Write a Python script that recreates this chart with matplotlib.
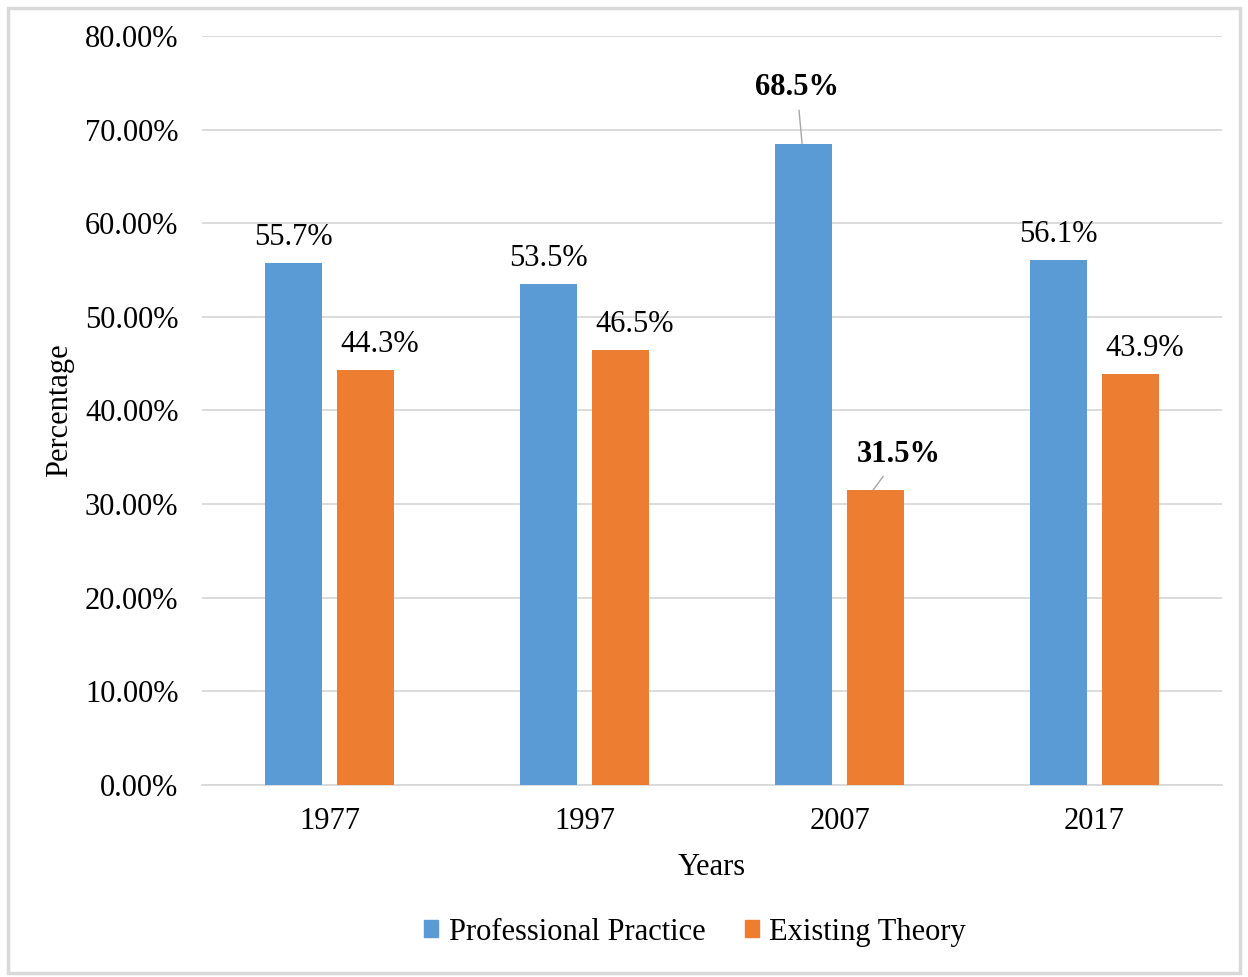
import matplotlib.pyplot as plt
import numpy as np
from matplotlib.patches import Patch, Rectangle
from matplotlib.ticker import FuncFormatter

years = ['1977', '1997', '2007', '2017']
professional = [55.7, 53.5, 68.5, 56.1]
existing = [44.3, 46.5, 31.5, 43.9]

blue = '#5b9bd5'
orange = '#ed7d31'
grid_col = '#d9d9d9'

plt.rcParams['font.family'] = ['Liberation Serif', 'DejaVu Serif']
fs = 22

fig = plt.figure(figsize=(12.48, 9.77), dpi=100)
ax = fig.add_axes([0.1619, 0.1965, 0.8173, 0.7667])

x = np.arange(len(years))
w = 0.224
off = 0.142
ax.bar(x - off, professional, w, color=blue, zorder=3)
ax.bar(x + off, existing, w, color=orange, zorder=3)

ax.set_xlim(-0.5, 3.5)
ax.set_ylim(0, 80)
ax.set_yticks(np.arange(0, 81, 10))
ax.yaxis.set_major_formatter(FuncFormatter(lambda v, p: f'{v:.2f}%'))
ax.set_xticks(x)
ax.set_xticklabels(years)
ax.tick_params(length=0, labelsize=fs)
ax.tick_params(axis='x', pad=16)
ax.tick_params(axis='y', pad=17)
ax.grid(axis='y', color=grid_col, linewidth=1.3, zorder=0)

for s in ['top', 'right', 'left']:
    ax.spines[s].set_visible(False)
ax.spines['bottom'].set_color(grid_col)
ax.spines['bottom'].set_linewidth(1.3)

ax.set_xlabel('Years', fontsize=fs, labelpad=12)
ax.set_ylabel('Percentage', fontsize=fs, labelpad=8)

# value labels, 2007 ones are bold with leader lines
for i in range(len(years)):
    if years[i] == '2007':
        continue
    ax.annotate(f'{professional[i]:.1f}%', (x[i] - off, professional[i]),
                xytext=(0, 8), textcoords='offset points',
                ha='center', va='bottom', fontsize=fs)
    ax.annotate(f'{existing[i]:.1f}%', (x[i] + off, existing[i]),
                xytext=(10, 8), textcoords='offset points',
                ha='center', va='bottom', fontsize=fs)

k = years.index('2007')
ax.annotate(f'{professional[k]:.1f}%', (x[k] - off - 0.005, professional[k]),
            xytext=(1.833, 74.5), textcoords='data',
            ha='center', va='center', fontsize=fs, fontweight='bold',
            arrowprops=dict(arrowstyle='-', color='#a6a6a6', lw=1,
                            shrinkA=4, shrinkB=0))
ax.annotate(f'{existing[k]:.1f}%', (x[k] + off - 0.01, existing[k]),
            xytext=(2.233, 35.3), textcoords='data',
            ha='center', va='center', fontsize=fs, fontweight='bold',
            arrowprops=dict(arrowstyle='-', color='#a6a6a6', lw=1,
                            shrinkA=4, shrinkB=0))

handles = [Patch(color=blue, label='Professional Practice'),
           Patch(color=orange, label='Existing Theory')]
fig.legend(handles=handles, loc='center', bbox_to_anchor=(0.557, 0.046),
           ncol=2, frameon=False, fontsize=fs, handlelength=0.45,
           handleheight=0.45, handletextpad=0.35, columnspacing=1.3)

fig.patches.append(Rectangle((8 / 1248, 4 / 977), 1232 / 1248, 965 / 977,
                             transform=fig.transFigure, fill=False,
                             edgecolor=grid_col, linewidth=2.5))

fig.savefig('out.png', dpi=100)
